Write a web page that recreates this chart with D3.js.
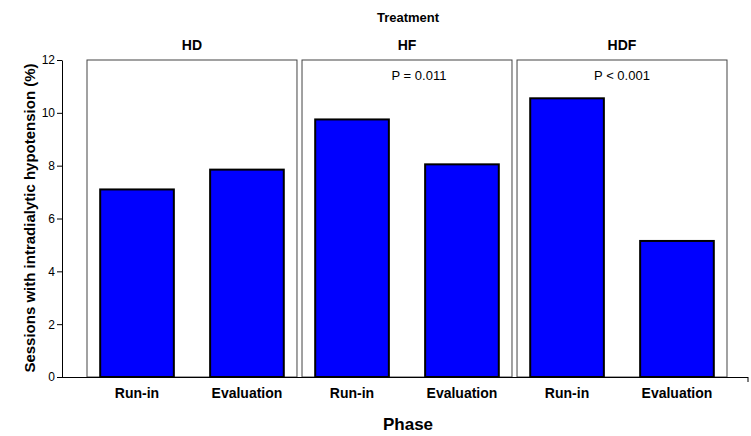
<!DOCTYPE html>
<html><head><meta charset="utf-8">
<script src="https://cdn.jsdelivr.net/npm/d3@7"></script>
<style>body{margin:0;background:#fff}svg{display:block;font-family:"Liberation Sans",Arial,sans-serif}</style>
</head><body><svg id="c" width="751" height="436"></svg>
<script>
const treatments = ["HD","HF","HDF"];
const phases = ["Run-in","Evaluation"];
const runIn = [7.1, 9.75, 10.55];
const evaluation = [7.85, 8.05, 5.15];
const pLabels = ["", "P = 0.011", "P < 0.001"];
const yTicks = [0,2,4,6,8,10,12];

const svg = d3.select("#c");
const y = d3.scaleLinear().domain([0,12]).range([377,60]);
const gx = d3.scaleBand().domain(treatments).range([87,727]).paddingInner(0.0234);
const px = d3.scaleBand().domain(phases).range([0,gx.bandwidth()]).paddingInner(0.33).paddingOuter(0.12);

// y axis
const yAxis = d3.axisLeft(y).tickValues(yTicks).tickSize(5).tickSizeOuter(0);
const ya = svg.append("g").attr("transform","translate(62,0)").call(yAxis);
ya.select(".domain").attr("stroke","#000");
ya.selectAll("text").attr("font-size",12).attr("fill","#000").attr("x",-7);

// panels
treatments.forEach((t,i)=>{
  const g = svg.append("g").attr("transform",`translate(${gx(t)},0)`);
  g.append("rect").attr("x",0).attr("y",y(12)).attr("width",gx.bandwidth()).attr("height",y(0)-y(12))
    .attr("fill","none").attr("stroke","#444").attr("stroke-width",1);
  g.append("text").attr("x",gx.bandwidth()/2).attr("y",50).attr("text-anchor","middle")
    .attr("font-size",14).attr("font-weight","bold").text(t);
  if (pLabels[i]) g.append("text").attr("x",gx.bandwidth()/2+ (i===1?12:0)).attr("y",80).attr("text-anchor","middle")
    .attr("font-size",13).text(pLabels[i]);
  const vals = [runIn[i], evaluation[i]];
  phases.forEach((p,j)=>{
    g.append("rect").attr("x",px(p)).attr("y",y(vals[j])).attr("width",px.bandwidth()).attr("height",y(0)-y(vals[j]))
      .attr("fill","#0000ff").attr("stroke","#000").attr("stroke-width",2);
    g.append("text").attr("x",px(p)+px.bandwidth()/2).attr("y",398).attr("text-anchor","middle")
      .attr("font-size",14).attr("font-weight","bold").text(p);
  });
});

// baseline
svg.append("line").attr("x1",62).attr("x2",748).attr("y1",377.5).attr("y2",377.5).attr("stroke","#000");
svg.append("line").attr("x1",748).attr("x2",748).attr("y1",377).attr("y2",382).attr("stroke","#000");

// titles
svg.append("text").attr("x",408).attr("y",22).attr("text-anchor","middle").attr("font-size",13).attr("font-weight","bold").text("Treatment");
svg.append("text").attr("x",408).attr("y",430).attr("text-anchor","middle").attr("font-size",17).attr("font-weight","bold").text("Phase");
svg.append("text").attr("transform","translate(35,218) rotate(-90)").attr("text-anchor","middle")
  .attr("font-size",15).attr("font-weight","bold").text("Sessions with intradialytic hypotension (%)");
</script></body></html>
